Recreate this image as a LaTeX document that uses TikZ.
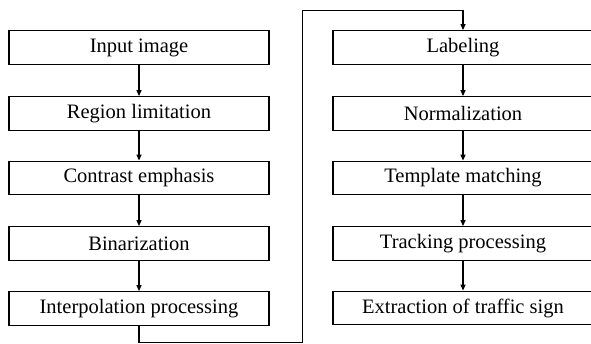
\documentclass[tikz,border=0pt]{standalone}
\usepackage{fontspec}
\setmainfont{Liberation Serif}
\usetikzlibrary{arrows.meta}
\begin{document}
\begin{tikzpicture}[x=1pt,y=-1pt,
  box/.style={draw, line width=1.3pt, minimum width=260pt, minimum height=33.5pt, inner sep=0pt, font=\fontsize{20.5}{24}\selectfont, anchor=center},
  conn/.style={line width=1.2pt, -{Triangle[length=6pt,width=5pt]}}]
\useasboundingbox (0,0) rectangle (591,344);
\clip (0,0) rectangle (591,344);
\node[box] (a1) at (139,47.5) {Input image};
\node[box] (a2) at (139,113.5) {Region limitation};
\node[box] (a3) at (139,178) {Contrast emphasis};
\node[box] (a4) at (139,243.5) {Binarization};
\node[box] (a5) at (139,308.5) {Interpolation processing};
\node[box] (b1) at (463,47.5) {Labeling};
\node[box] (b2) at (463,113.5) {Normalization};
\node[box] (b3) at (463,178) {Template matching};
\node[box] (b4) at (463,243.5) {Tracking processing};
\node[box] (b5) at (463,308) {Extraction of traffic sign};
\draw[conn] (a1) -- (a2);
\draw[conn] (a2) -- (a3);
\draw[conn] (a3) -- (a4);
\draw[conn] (a4) -- (a5);
\draw[conn] (b1) -- (b2);
\draw[conn] (b2) -- (b3);
\draw[conn] (b3) -- (b4);
\draw[conn] (b4) -- (b5);
\coordinate (p1) at (139,342.5);
\coordinate (p2) at (302.5,342.5);
\coordinate (p3) at (302.5,10.5);
\coordinate (p4) at (463,10.5);
\draw[conn] (a5.south) -- (p1) -- (p2) -- (p3) -- (p4) -- (b1.north);
\end{tikzpicture}
\end{document}
